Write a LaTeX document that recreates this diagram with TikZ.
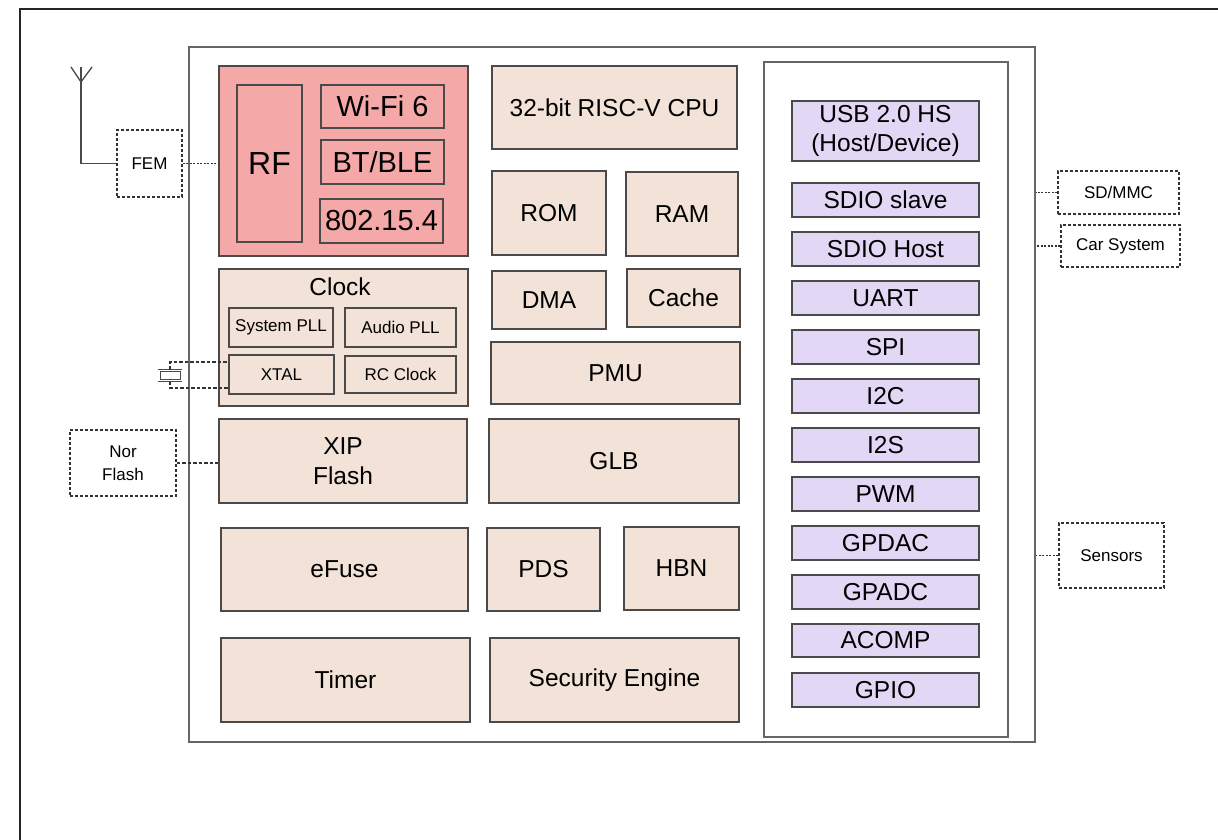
\documentclass[tikz,border=0pt]{standalone}
\usepackage{fontspec}
\setmainfont{Liberation Sans}
\definecolor{rfpink}{HTML}{F4A8A8}
\definecolor{beige}{HTML}{F2E2D7}
\definecolor{lilac}{HTML}{E2D7F4}
\definecolor{edge}{HTML}{4A4A4A}
\definecolor{frame}{HTML}{666666}
\newcommand\blk[7]{%
  \node[#6, minimum width={(#4)-(#2)}, minimum height={(#5)-(#3)}] (#1)
    at ({((#2)+(#4))/2},{((#3)+(#5))/2}) {#7};}
\tikzset{
  base/.style={draw=edge, line width=1.3pt, inner sep=0pt, align=center, text=black},
  pinkbox/.style={base, fill=rfpink},
  beigebox/.style={base, fill=beige},
  lilacbox/.style={base, fill=lilac},
  extbox/.style={base, fill=white, draw=black!80, dash pattern=on 3pt off 2pt, line width=1.4pt},
  fbig/.style={font=\fontsize{24.5}{29}\selectfont},
  fmid/.style={font=\fontsize{29}{33}\selectfont},
  fsmall/.style={font=\fontsize{17}{23}\selectfont},
  dotline/.style={draw=black!80, line width=1.4pt, dash pattern=on 2pt off 1.5pt},
  dashline/.style={draw=black!80, line width=1.4pt, dash pattern=on 3.5pt off 2pt},
}
\begin{document}
\begin{tikzpicture}[x=1pt, y=-1pt]
\useasboundingbox (0,0) rectangle (1218,840);
\fill[white] (0,0) rectangle (1218,840);
% outer frame (clipped at right and bottom)
\draw[line width=2pt, color=black!85] (20,840) -- (20,9) -- (1218,9);
% chip
\blk{chip}{189}{47}{1035}{742}{draw=frame, line width=1.8pt, inner sep=0pt}{}
\blk{periph}{764}{62}{1008}{737}{draw=frame, line width=1.6pt, inner sep=0pt}{}
% RF
\blk{rf}{219}{66}{468}{256}{pinkbox}{}
\blk{rfin}{237}{85}{302}{242}{pinkbox, font=\fontsize{32}{36}\selectfont}{RF}
\blk{wifi}{321}{85}{444}{128}{pinkbox, fmid}{Wi-Fi 6}
\blk{bt}{321}{140}{444}{184}{pinkbox, fmid}{BT/BLE}
\blk{ieee}{320}{199}{443}{243}{pinkbox, fmid}{802.15.4}
% middle
\blk{cpu}{492}{66}{737}{149}{beigebox, fbig}{32-bit RISC-V CPU}
\blk{rom}{492}{171}{606}{255}{beigebox, fbig}{ROM}
\blk{ram}{626}{172}{738}{256}{beigebox, fbig}{RAM}
\blk{dma}{492}{271}{606}{329}{beigebox, fbig}{DMA}
\blk{cache}{627}{269}{740}{327}{beigebox, fbig}{Cache}
\blk{pmu}{491}{342}{740}{404}{beigebox, fbig}{PMU}
\blk{glb}{489}{419}{739}{503}{beigebox, fbig}{GLB}
% clock
\blk{clock}{219}{269}{468}{406}{beigebox}{}
\node[fbig, inner sep=0pt] (clocktitle) at (340,287) {Clock};
\blk{syspll}{229}{308}{333}{347}{beigebox, fsmall}{System PLL}
\blk{audpll}{345}{308}{456}{347}{beigebox, fsmall}{Audio PLL}
\blk{xtal}{229}{355}{334}{394}{beigebox, fsmall}{XTAL}
\blk{rcclk}{345}{356}{456}{393}{beigebox, fsmall}{RC Clock}
\blk{xip}{219}{419}{467}{503}{beigebox, font=\fontsize{24.5}{30}\selectfont}{XIP\\Flash}
% bottom
\blk{efuse}{221}{528}{468}{611}{beigebox, fbig}{eFuse}
\blk{pds}{487}{528}{600}{611}{beigebox, fbig}{PDS}
\blk{hbn}{624}{527}{739}{610}{beigebox, fbig}{HBN}
\blk{timer}{221}{638}{470}{722}{beigebox, fbig}{Timer}
\blk{sec}{490}{638}{739}{722}{beigebox, fbig}{Security Engine}
% peripherals
\blk{usb}{792}{101}{979}{161}{lilacbox, fbig}{USB 2.0 HS\\(Host/Device)}
\blk{sdios}{792}{183}{979}{217}{lilacbox, fbig}{SDIO slave}
\blk{sdioh}{792}{232}{979}{266}{lilacbox, fbig}{SDIO Host}
\blk{uart}{792}{281}{979}{315}{lilacbox, fbig}{UART}
\blk{spi}{792}{330}{979}{364}{lilacbox, fbig}{SPI}
\blk{itc}{792}{379}{979}{413}{lilacbox, fbig}{I2C}
\blk{its}{792}{428}{979}{462}{lilacbox, fbig}{I2S}
\blk{pwm}{792}{477}{979}{511}{lilacbox, fbig}{PWM}
\blk{gpdac}{792}{526}{979}{560}{lilacbox, fbig}{GPDAC}
\blk{gpadc}{792}{575}{979}{609}{lilacbox, fbig}{GPADC}
\blk{acomp}{792}{624}{979}{657}{lilacbox, fbig}{ACOMP}
\blk{gpio}{792}{673}{979}{707}{lilacbox, fbig}{GPIO}
% external
\blk{fem}{117}{130}{182}{197}{extbox, fsmall}{FEM}
\blk{nor}{70}{430}{176}{496}{extbox, fsmall}{Nor\\Flash}
\blk{sdmmc}{1058}{171}{1179}{214}{extbox, fsmall}{SD/MMC}
\blk{carsys}{1061}{225}{1180}{267}{extbox, fsmall}{Car System}
\blk{sensors}{1059}{523}{1164}{588}{extbox, fsmall}{Sensors}
% antenna
\coordinate (antl) at (71,67);
\coordinate (antr) at (92,67);
\coordinate (antt) at (81,67);
\coordinate (antv) at (81,82);
\draw[edge, line width=1.3pt] (antl) -- (antv) -- (antr);
\draw[edge, line width=1.3pt] (antt) -- (antv) |- (fem.west);
% crystal
\coordinate (xt1) at (170,362);
\coordinate (xt2) at (170,388);
\draw[edge, line width=1.2pt] (158,369.5) -- (182,369.5);
\draw[edge, line width=1.2pt] (158,381.5) -- (182,381.5);
\draw[edge, line width=1.2pt] (160.5,371.5) rectangle (180.5,379.5);
\draw[dashline] (170,369.5) -- (xt1) -- (xtal.west |- xt1);
\draw[dashline] (170,381.5) -- (xt2) -- (xtal.west |- xt2);
% connectors
\draw[dotline] (fem.east) -- (rf.west |- fem.east);
\draw[dashline] (nor.east) -- (xip.west |- nor.east);
\draw[dotline] (sdmmc.west) -- (chip.east |- sdmmc.west);
\draw[dotline] (carsys.west) -- (chip.east |- carsys.west);
\draw[dotline] (sensors.west) -- (chip.east |- sensors.west);
\end{tikzpicture}
\end{document}
